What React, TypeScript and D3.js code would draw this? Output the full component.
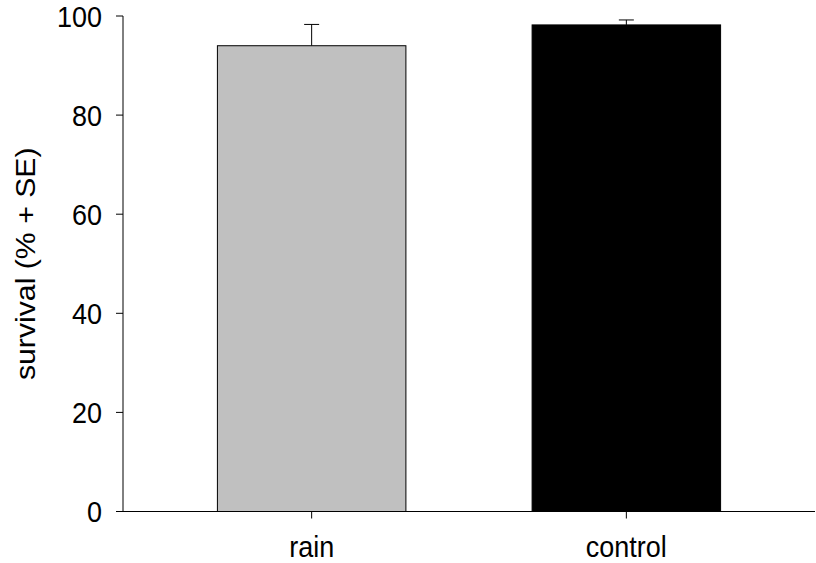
import { useMemo } from "react";
import * as d3 from "d3";

const categories = ["rain", "control"];
const survival = [94.0, 98.2];
const stdErr = [4.3, 1.0];
const barColors = ["#c0c0c0", "#000000"];
const yTicks = [0, 20, 40, 60, 80, 100];

const width = 816;
const height = 563;
const margin = { top: 16, right: 1, bottom: 51.5, left: 123 };

const font = "'Liberation Sans', Arial, sans-serif";
// text in the reference is a bit taller than it is wide
const stretch = 1.12;
const fontSize = 27;

export default function App() {
  const xScale = useMemo(
    () =>
      d3
        .scaleBand()
        .domain(categories)
        .range([margin.left, width - margin.right])
        .paddingInner(0.401)
        .paddingOuter(0.3),
    []
  );

  const yScale = useMemo(
    () =>
      d3
        .scaleLinear()
        .domain([0, 100])
        .range([height - margin.bottom, margin.top]),
    []
  );

  const y0 = yScale(0);
  const bw = xScale.bandwidth();
  const capHalf = 7.5;

  return (
    <svg
      width={width}
      height={height}
      style={{ position: "absolute", left: 0, top: 0, background: "#fff" }}
      fontFamily={font}
    >
      {/* error bars first, bars drawn over them */}
      {categories.map((c, i) => {
        const cx = (xScale(c) ?? 0) + bw / 2;
        const top = yScale(survival[i] + stdErr[i]);
        return (
          <g key={`err-${c}`} stroke="#000" strokeWidth={1}>
            <line x1={cx} x2={cx} y1={yScale(survival[i])} y2={top} />
            <line x1={cx - capHalf} x2={cx + capHalf} y1={top} y2={top} />
          </g>
        );
      })}

      {categories.map((c, i) => (
        <rect
          key={c}
          x={xScale(c)}
          y={yScale(survival[i])}
          width={bw}
          height={y0 - yScale(survival[i])}
          fill={barColors[i]}
          stroke="#000"
          strokeWidth={1}
        />
      ))}

      {/* y axis */}
      <line
        x1={margin.left}
        x2={margin.left}
        y1={yScale(100)}
        y2={y0}
        stroke="#000"
        strokeWidth={1}
      />
      {yTicks.map((t) => (
        <g key={t}>
          <line
            x1={margin.left - 7}
            x2={margin.left}
            y1={yScale(t)}
            y2={yScale(t)}
            stroke="#000"
            strokeWidth={1}
          />
          <text
            transform={`translate(${margin.left - 21}, ${yScale(t)}) scale(1, ${stretch})`}
            dy="0.36em"
            textAnchor="end"
            fontSize={fontSize}
            fill="#000"
          >
            {t}
          </text>
        </g>
      ))}

      {/* x axis */}
      <line
        x1={margin.left - 7}
        x2={width - margin.right}
        y1={y0}
        y2={y0}
        stroke="#000"
        strokeWidth={1}
      />
      {categories.map((c) => {
        const cx = (xScale(c) ?? 0) + bw / 2;
        return (
          <g key={`xt-${c}`}>
            <line x1={cx} x2={cx} y1={y0} y2={y0 + 7} stroke="#000" />
            <text
              transform={`translate(${cx}, 557) scale(1, ${stretch})`}
              textAnchor="middle"
              fontSize={fontSize}
              fill="#000"
            >
              {c}
            </text>
          </g>
        );
      })}

      <text
        transform={`translate(35, ${(yScale(0) + yScale(100)) / 2}) scale(1, ${stretch}) rotate(-90)`}
        textAnchor="middle"
        fontSize={fontSize}
        fill="#000"
      >
        survival (% + SE)
      </text>
    </svg>
  );
}
